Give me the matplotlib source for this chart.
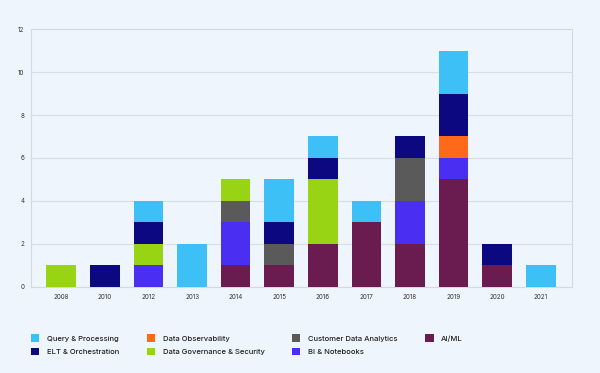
import matplotlib.pyplot as plt
import numpy as np

plt.rcParams['font.family'] = ['Inter', 'DejaVu Sans']

years = ['2008', '2010', '2012', '2013', '2014', '2015', '2016', '2017', '2018', '2019', '2020', '2021']

# stacked bottom -> top
ai_ml = [0, 0, 0, 0, 1, 1, 2, 3, 2, 5, 1, 0]
bi_notebooks = [0, 0, 1, 0, 2, 0, 0, 0, 2, 1, 0, 0]
customer_data = [0, 0, 0, 0, 1, 1, 0, 0, 2, 0, 0, 0]
data_governance = [1, 0, 1, 0, 1, 0, 3, 0, 0, 0, 0, 0]
data_observability = [0, 0, 0, 0, 0, 0, 0, 0, 0, 1, 0, 0]
elt_orchestration = [0, 1, 1, 0, 0, 1, 1, 0, 1, 2, 1, 0]
query_processing = [0, 0, 1, 2, 0, 2, 1, 1, 0, 2, 0, 1]

series = [
    ('AI/ML', ai_ml, '#6a1b4f'),
    ('BI & Notebooks', bi_notebooks, '#4a2ff2'),
    ('Customer Data Analytics', customer_data, '#5a5a5a'),
    ('Data Governance & Security', data_governance, '#99d414'),
    ('Data Observability', data_observability, '#ff6a1a'),
    ('ELT & Orchestration', elt_orchestration, '#0c0980'),
    ('Query & Processing', query_processing, '#3cc0f5'),
]

bg = '#eef5fd'
fig = plt.figure(figsize=(6, 3.73), dpi=100, facecolor=bg)
ax = fig.add_axes([0.052, 0.231, 0.901, 0.691], facecolor=bg)

x = np.arange(len(years))
bottom = np.zeros(len(years))
bars = {}
for name, vals, color in series:
    bars[name] = ax.bar(x, vals, 0.68, bottom=bottom, color=color, label=name, zorder=3)
    bottom += np.array(vals)

ax.set_xlim(-0.69, 11.71)
ax.set_ylim(0, 12)
ax.set_yticks(range(0, 13, 2))
ax.set_xticks(x)
ax.set_xticklabels(years)
ax.grid(axis='y', color='#d9dee6', linewidth=0.8, zorder=0)
ax.tick_params(length=0, labelsize=4.5, colors='#333333', pad=5)
for s in ax.spines.values():
    s.set_color('#d4d9e0')
    s.set_linewidth(0.8)

order = ['Query & Processing', 'ELT & Orchestration', 'Data Observability',
         'Data Governance & Security', 'Customer Data Analytics', 'BI & Notebooks', 'AI/ML']
fig.legend([bars[n] for n in order], order, loc='upper left', bbox_to_anchor=(0.04, 0.122),
           ncol=4, frameon=False, prop={'size': 5.5, 'weight': 'medium'},
           handlelength=1.1, handleheight=1.2, handletextpad=1.0,
           columnspacing=3.6, labelspacing=0.7, labelcolor='#222222')

fig.savefig('out.png', dpi=100, facecolor=bg)
